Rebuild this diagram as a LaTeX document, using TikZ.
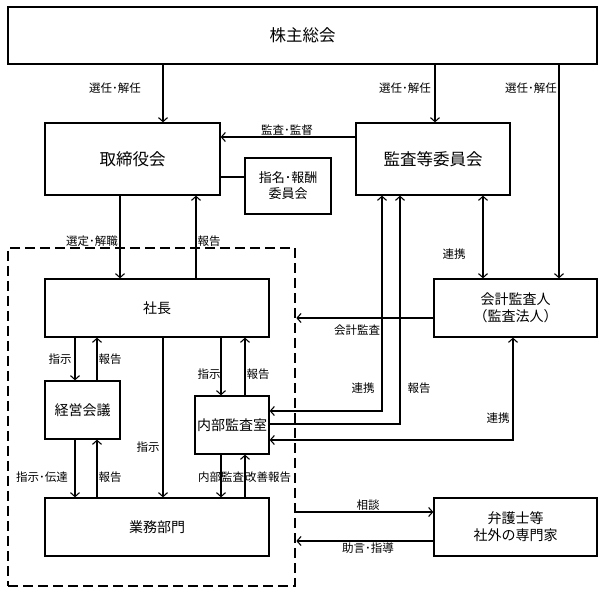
\documentclass[tikz,border=0pt]{standalone}
\usepackage{fontspec}
\setmainfont{Noto Sans CJK JP}
\usetikzlibrary{arrows.meta}
\tikzstyle{bigbox}=[rectangle,draw=black,line width=1.3pt,inner sep=0pt,
  align=center,font=\fontsize{16.5}{20}\selectfont]
\tikzstyle{midbox}=[rectangle,draw=black,line width=1.3pt,inner sep=0pt,
  align=center,font=\fontsize{14}{17}\selectfont]
\tikzstyle{dashbox}=[rectangle,draw=black,line width=2.7pt,
  dash pattern=on 10pt off 5pt,inner sep=0pt]
\tikzstyle{lbl}=[inner sep=0pt,font=\fontsize{11.5}{13}\selectfont]
\tikzstyle{conn}=[line width=1.1pt]

\begin{document}
\begin{tikzpicture}[x=1pt,y=-1pt,>={Straight Barb[length=4pt,width=9pt]}]
    \useasboundingbox (0,0) rectangle (600,593);
    \node [style=bigbox,minimum width=589pt,minimum height=57pt] (kabunushi) at (302.5,35.5) {株主総会};
    \node [style=bigbox,minimum width=175pt,minimum height=72pt] (torishimari) at (132.5,159) {取締役会};
    \node [style=midbox,minimum width=86pt,minimum height=56pt,font=\fontsize{13}{16}\selectfont] (shimei) at (288,186) {指名･報酬\\委員会};
    \node [style=bigbox,minimum width=154pt,minimum height=72pt] (kansatou) at (433,159) {監査等委員会};
    \node [style=dashbox,minimum width=287pt,minimum height=338pt] (shanai) at (151.5,417) {};
    \node [style=midbox,minimum width=224pt,minimum height=58pt] (shachou) at (157,308) {社長};
    \node [style=midbox,minimum width=163pt,minimum height=58pt] (kaikei) at (515.5,308) {会計監査人\\（監査法人）};
    \node [style=midbox,minimum width=75pt,minimum height=58pt] (keiei) at (82.5,410) {経営会議};
    \node [style=midbox,minimum width=74pt,minimum height=58pt] (naibu) at (232,425) {内部監査室};
    \node [style=midbox,minimum width=224pt,minimum height=58pt] (gyoumu) at (157,527) {業務部門};
    \node [style=midbox,minimum width=163pt,minimum height=58pt] (bengoshi) at (515.5,527) {弁護士等\\社外の専門家};
    % helper coordinates for the straight runs
    \coordinate (v75) at (75,0);
    \coordinate (v97) at (97,0);
    \coordinate (v120) at (120,0);
    \coordinate (v163) at (163,0);
    \coordinate (v196) at (196,0);
    \coordinate (v221) at (221,0);
    \coordinate (v245) at (245,0);
    \coordinate (v382) at (382,0);
    \coordinate (v400) at (400,0);
    \coordinate (v435) at (435,0);
    \coordinate (v483) at (483,0);
    \coordinate (v513) at (513,0);
    \coordinate (v559) at (559,0);
    \coordinate (h137) at (0,137);
    \coordinate (h177) at (0,177);
    \coordinate (h318) at (0,318);
    \coordinate (h411) at (0,411);
    \coordinate (h424) at (0,424);
    \coordinate (h440) at (0,440);
    \coordinate (h512) at (0,512);
    \coordinate (h541) at (0,541);
    \draw [conn,->] (kabunushi.south -| v163) to (torishimari.north -| v163);
    \draw [conn,->] (kabunushi.south -| v435) to (kansatou.north -| v435);
    \draw [conn,->] (kabunushi.south -| v559) to (kaikei.north -| v559);
    \draw [conn,->] (kansatou.west |- h137) to (torishimari.east |- h137);
    \draw [conn] (torishimari.east |- h177) to (shimei.west |- h177);
    \draw [conn,->] (torishimari.south -| v120) to (shachou.north -| v120);
    \draw [conn,->] (shachou.north -| v196) to (torishimari.south -| v196);
    \draw [conn,<->] (kansatou.south -| v483) to (kaikei.north -| v483);
    \draw [conn,->] (kaikei.west |- h318) to (shanai.east |- h318);
    \draw [conn,<->] (kansatou.south -| v382) |- (naibu.east |- h411);
    \draw [conn,->] (naibu.east |- h424) -| (kansatou.south -| v400);
    \draw [conn,<->] (kaikei.south -| v513) |- (naibu.east |- h440);
    \draw [conn,->] (shachou.south -| v75) to (keiei.north -| v75);
    \draw [conn,->] (keiei.north -| v97) to (shachou.south -| v97);
    \draw [conn,->] (keiei.south -| v75) to (gyoumu.north -| v75);
    \draw [conn,->] (gyoumu.north -| v97) to (keiei.south -| v97);
    \draw [conn,->] (shachou.south -| v163) to (gyoumu.north -| v163);
    \draw [conn,->] (shachou.south -| v221) to (naibu.north -| v221);
    \draw [conn,->] (naibu.north -| v245) to (shachou.south -| v245);
    \draw [conn,->] (naibu.south -| v221) to (gyoumu.north -| v221);
    \draw [conn,->] (gyoumu.north -| v245) to (naibu.south -| v245);
    \draw [conn,->] (shanai.east |- h512) to (bengoshi.west |- h512);
    \draw [conn,->] (bengoshi.west |- h541) to (shanai.east |- h541);
    % labels
    \node [style=lbl] (sennin1) at (115,88) {選任･解任};
    \node [style=lbl] (sennin2) at (405,88) {選任･解任};
    \node [style=lbl] (sennin3) at (531,88) {選任･解任};
    \node [style=lbl] (kansakantoku) at (287,130) {監査･監督};
    \node [style=lbl] (sentei) at (92,241) {選定･解職};
    \node [style=lbl] (houkoku1) at (209,241) {報告};
    \node [style=lbl] (renkei1) at (454,254) {連携};
    \node [style=lbl] (kaikeikansa) at (357,330) {会計監査};
    \node [style=lbl] (renkei2) at (363,388) {連携};
    \node [style=lbl] (houkoku2) at (419,388) {報告};
    \node [style=lbl] (renkei3) at (498,418) {連携};
    \node [style=lbl] (shiji1) at (60,359) {指示};
    \node [style=lbl] (houkoku3) at (110,359) {報告};
    \node [style=lbl] (shiji2) at (42,477) {指示･伝達};
    \node [style=lbl] (houkoku4) at (110,477) {報告};
    \node [style=lbl] (shiji3) at (148,447) {指示};
    \node [style=lbl] (shiji4) at (209,374) {指示};
    \node [style=lbl] (houkoku5) at (258,374) {報告};
    \node [style=lbl] (naibukansa) at (221,477) {内部監査};
    \node [style=lbl] (kaizen) at (268,477) {改善報告};
    \node [style=lbl] (soudan) at (368,505) {相談};
    \node [style=lbl] (jogen) at (368,548) {助言･指導};
  \end{tikzpicture}
\end{document}
